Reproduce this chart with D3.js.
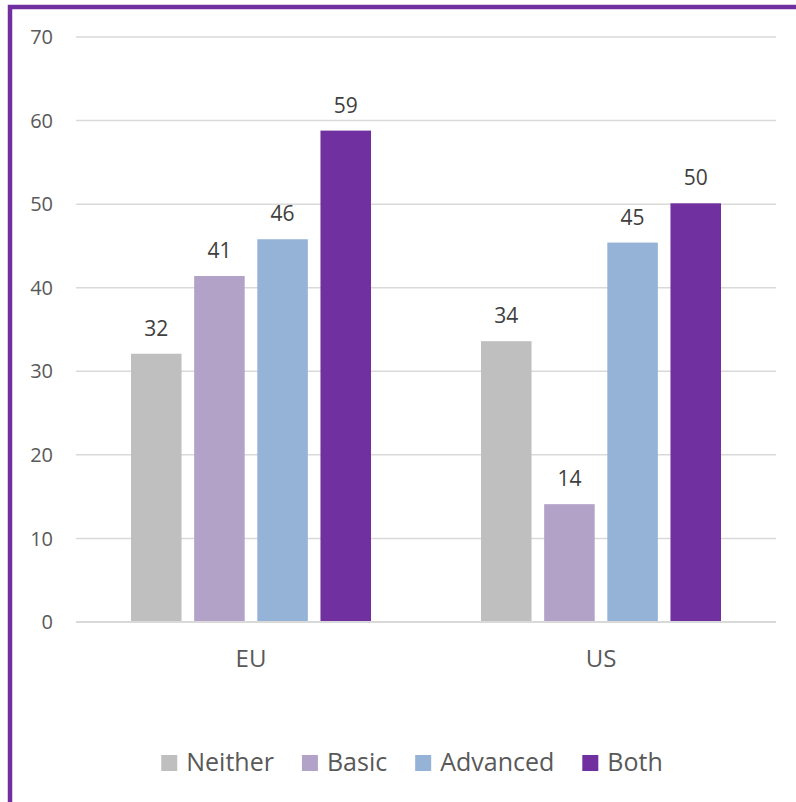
<!DOCTYPE html>
<html>
<head>
<meta charset="utf-8">
<script src="https://cdn.jsdelivr.net/npm/d3@7"></script>
<style>
  body { margin: 0; background: #fff; }
  text { font-family: "Open Sans", sans-serif; fill: #595959; }
</style>
</head>
<body>
<div id="chart"></div>
<script>
// chart data
const categories = ["EU", "US"];
const series = ["Neither", "Basic", "Advanced", "Both"];
const colors = ["#bfbfbf", "#b3a2c7", "#95b3d7", "#7030a0"];
const values = {
  Neither: [32.1, 33.6],
  Basic: [41.4, 14.1],
  Advanced: [45.8, 45.4],
  Both: [58.8, 50.1]
};
const yTicks = [0, 10, 20, 30, 40, 50, 60, 70];

const config = {
  width: 796,
  height: 802,
  plot: { left: 76, right: 776, top: 37, bottom: 622 }
};

const svg = d3.select("#chart")
  .append("svg")
  .attr("width", config.width)
  .attr("height", config.height);

const y = d3.scaleLinear()
  .domain([0, 70])
  .range([config.plot.bottom, config.plot.top]);

const x0 = d3.scaleBand()
  .domain(categories)
  .range([config.plot.left, config.plot.right]);

const x1 = d3.scaleBand()
  .domain(series)
  .range([55, x0.bandwidth() - 55])
  .paddingInner(0.2);

// gridlines + y labels
svg.append("g")
  .selectAll("line")
  .data(yTicks)
  .join("line")
  .attr("x1", config.plot.left)
  .attr("x2", config.plot.right)
  .attr("y1", d => y(d))
  .attr("y2", d => y(d))
  .style("stroke", "#d9d9d9")
  .style("stroke-width", "1.5px");

svg.append("g")
  .selectAll("text")
  .data(yTicks)
  .join("text")
  .attr("x", 53)
  .attr("y", d => y(d))
  .attr("dy", "0.36em")
  .attr("text-anchor", "end")
  .style("font-size", "20px")
  .text(d => d);

// bars
const groups = svg.append("g")
  .selectAll("g")
  .data(categories)
  .join("g")
  .attr("transform", d => "translate(" + x0(d) + ",0)");

groups.selectAll("rect")
  .data((c, ci) => series.map((s, si) => ({ s: s, v: values[s][ci], color: colors[si] })))
  .join("rect")
  .attr("x", d => x1(d.s))
  .attr("width", x1.bandwidth())
  .attr("y", d => y(d.v))
  .attr("height", d => y(0) - y(d.v))
  .style("fill", d => d.color);

groups.selectAll("text.label")
  .data((c, ci) => series.map(s => ({ s: s, v: values[s][ci] })))
  .join("text")
  .attr("class", "label")
  .attr("x", d => x1(d.s) + x1.bandwidth() / 2)
  .attr("y", d => y(d.v) - 18)
  .attr("text-anchor", "middle")
  .style("font-size", "21px")
  .style("fill", "#404040")
  .text(d => Math.round(d.v));

// baseline axis
svg.append("line")
  .attr("x1", config.plot.left)
  .attr("x2", config.plot.right)
  .attr("y1", y(0))
  .attr("y2", y(0))
  .style("stroke", "#d9d9d9")
  .style("stroke-width", "2px");

// category labels
svg.append("g")
  .selectAll("text")
  .data(categories)
  .join("text")
  .attr("x", d => x0(d) + x0.bandwidth() / 2)
  .attr("y", 667)
  .attr("text-anchor", "middle")
  .style("font-size", "24px")
  .text(d => d);

// legend
const legend = svg.append("g");
const items = legend.selectAll("g")
  .data(series)
  .join("g");

items.append("rect")
  .attr("y", 755)
  .attr("width", 16)
  .attr("height", 16)
  .style("fill", (d, i) => colors[i]);

items.append("text")
  .attr("x", 25)
  .attr("y", 771)
  .style("font-size", "25px")
  .text(d => d);

let pos = 0;
const offsets = [];
items.each(function() {
  offsets.push(pos);
  pos += 25 + this.querySelector("text").getComputedTextLength() + 28;
});
const totalW = pos - 28;
const startX = 412 - totalW / 2;
items.attr("transform", (d, i) => "translate(" + (startX + offsets[i]) + ",0)");

// purple frame (left and top edges)
svg.append("path")
  .attr("d", "M10,802 V7 H796")
  .style("fill", "none")
  .style("stroke", "#7030a0")
  .style("stroke-width", "4.5px");
</script>
</body>
</html>
